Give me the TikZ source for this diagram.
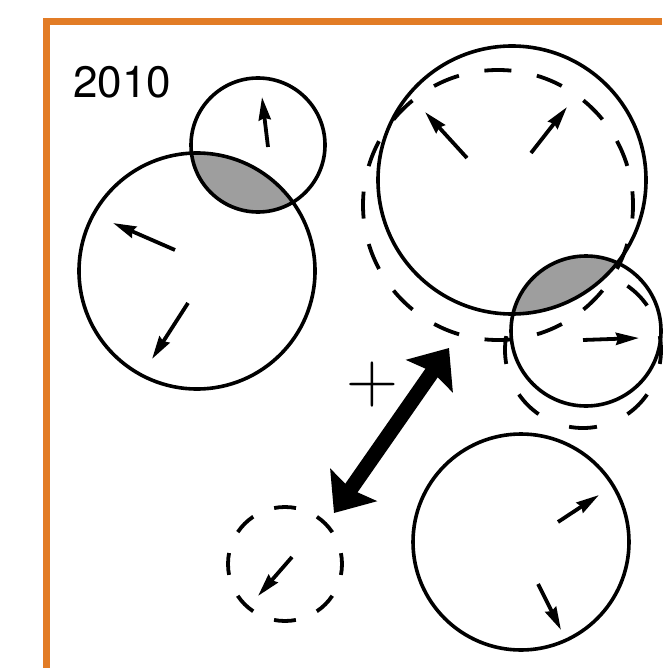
\documentclass[tikz,border=0pt]{standalone}
\usepackage{fontspec}
\newfontfamily\herosfont{TeX Gyre Heros}
\usetikzlibrary{arrows.meta}
\definecolor{frameorange}{RGB}{226,124,38}
\definecolor{lensgray}{RGB}{158,158,158}
\begin{document}
\begin{tikzpicture}[x=1pt,y=-1pt,
  solidring/.style={draw=black, line width=3.6pt},
  dashring/.style={draw=black, line width=3.8pt},
  lens/.style={fill=lensgray},
  vec/.style={line width=3.8pt, -{Stealth[length=23pt,width=12pt,inset=2pt]}},
  bigvec/.style={line width=15pt, {Stealth[length=34pt,width=56pt,inset=5pt]}-{Stealth[length=34pt,width=56pt,inset=5pt]}},
  label/.style={inner sep=0pt}
]
\useasboundingbox (0,0) rectangle (662,668);
\fill[white] (0,0) rectangle (662,668);

% orange frame
\draw[frameorange, line width=7pt, line join=miter] (46,668) -- (46,22) -- (662,22);

% centres
\coordinate (A) at (197,271);
\coordinate (B) at (258,145);
\coordinate (C) at (512,180);
\coordinate (D) at (498,205);
\coordinate (E) at (586,331);
\coordinate (F) at (583,350);
\coordinate (G) at (285,564);
\coordinate (H) at (521,542);

% dashed rings
\draw[dashring, dash pattern=on 27pt off 26.01pt, dash phase=13.5pt] (D) circle[radius=135];
\draw[dashring, dash pattern=on 28pt off 33.26pt, dash phase=14pt] (F) circle[radius=78];
\draw[dashring, dash pattern=on 22pt off 22.77pt, dash phase=11pt] (G) circle[radius=57];

% overlap lenses
\begin{scope}
  \clip (B) circle[radius=67];
  \fill[lens] (A) circle[radius=118];
\end{scope}
\begin{scope}
  \clip (E) circle[radius=75];
  \fill[lens] (C) circle[radius=134];
\end{scope}

% solid rings
\draw[solidring] (A) circle[radius=118];
\draw[solidring] (B) circle[radius=67];
\draw[solidring] (C) circle[radius=134];
\draw[solidring] (E) circle[radius=75];
\draw[solidring] (H) circle[radius=108];

% small vectors
\coordinate (a1s) at (175,250); \coordinate (a1e) at (113,223);
\coordinate (a2s) at (188,303); \coordinate (a2e) at (152,359);
\coordinate (b1s) at (268,147); \coordinate (b1e) at (262,97);
\coordinate (c1s) at (467,158); \coordinate (c1e) at (425,112);
\coordinate (c2s) at (531,153); \coordinate (c2e) at (567,107);
\coordinate (e1s) at (583,340); \coordinate (e1e) at (639,338);
\coordinate (h1s) at (558,522); \coordinate (h1e) at (599,495);
\coordinate (h2s) at (538,584); \coordinate (h2e) at (561,630);
\coordinate (g1s) at (292,557); \coordinate (g1e) at (258,596);
\draw[vec] (a1s) -- (a1e);
\draw[vec] (a2s) -- (a2e);
\draw[vec] (b1s) -- (b1e);
\draw[vec] (c1s) -- (c1e);
\draw[vec] (c2s) -- (c2e);
\draw[vec] (e1s) -- (e1e);
\draw[vec] (h1s) -- (h1e);
\draw[vec] (h2s) -- (h2e);
\draw[vec] (g1s) -- (g1e);

% big double arrow
\coordinate (bigS) at (334,513);
\coordinate (bigE) at (449,348);
\draw[bigvec] (bigS) -- (bigE);

% labels
\node[label, font=\herosfont\fontsize{44}{44}\selectfont] (year) at (122,82.5) {2010};
\node[label, font=\fontsize{72}{72}\selectfont\addfontfeature{FakeBold=1.5}] (plus) at (372,385) {+};
\end{tikzpicture}
\end{document}
